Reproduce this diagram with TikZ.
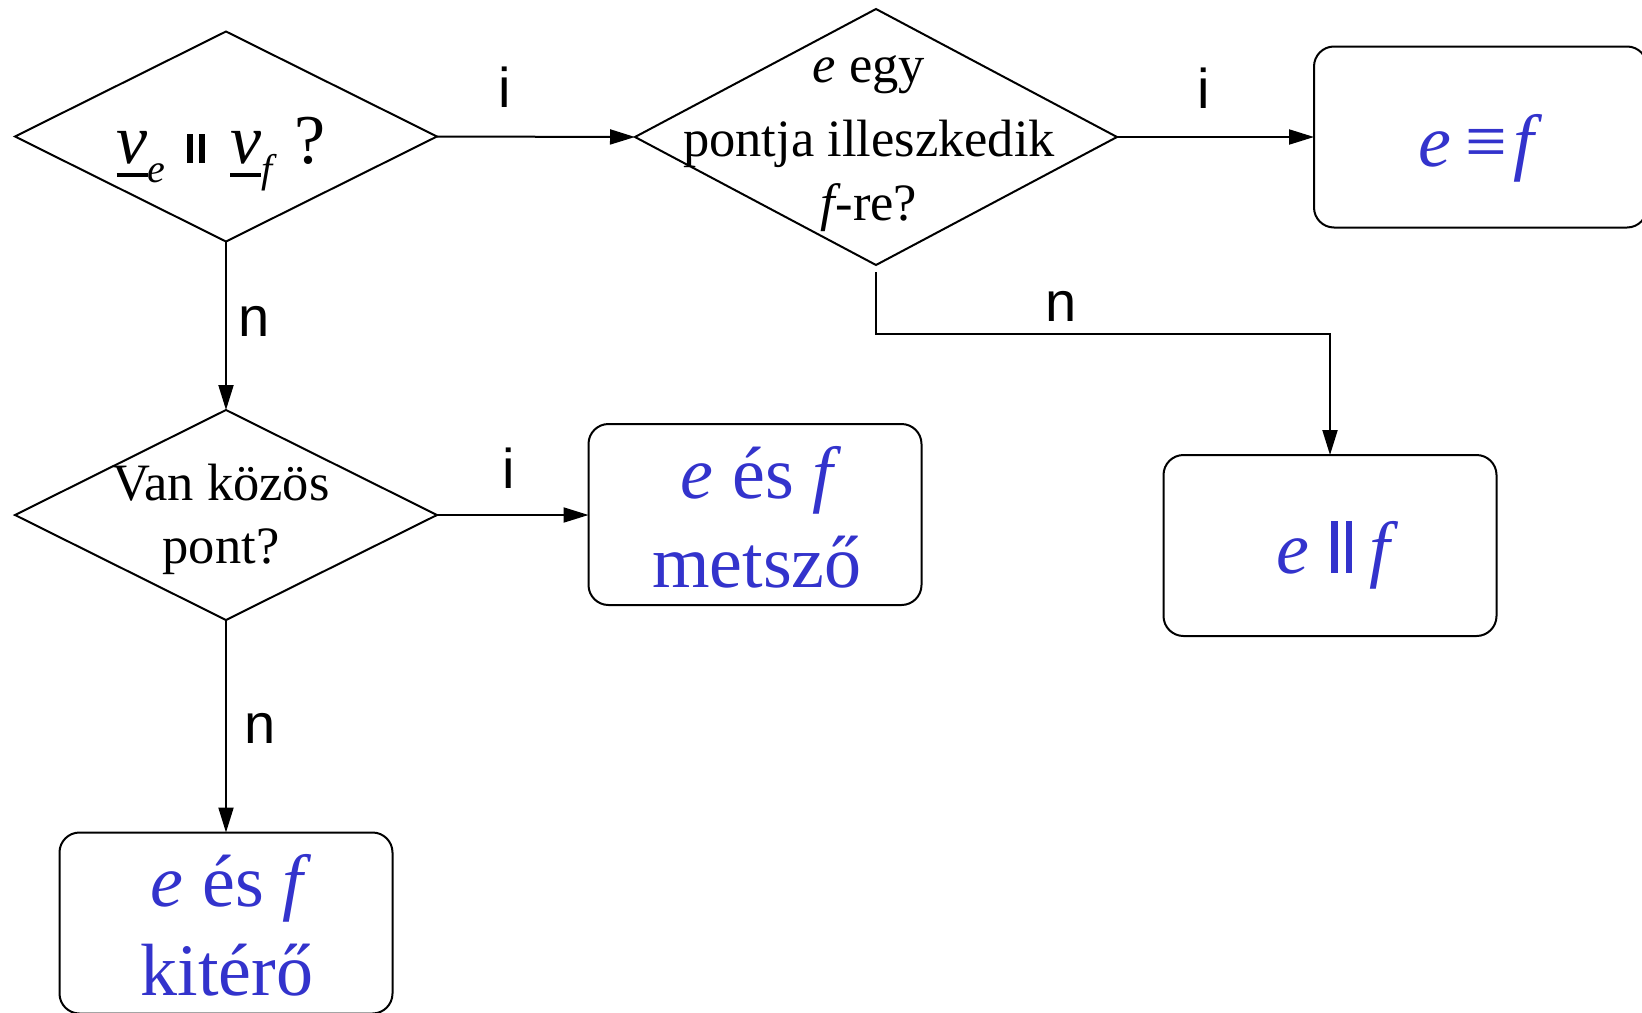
\documentclass[tikz,border=0pt]{standalone}
\usepackage{fontspec}
\setmainfont{Liberation Serif}
\newfontfamily\labelfont{Liberation Sans}
\usetikzlibrary{shapes.geometric,arrows.meta}
\definecolor{resblue}{RGB}{51,51,204}

% underlined italic v (direction vector)
\newcommand\ulv{\vtop{\hbox{\itshape v}\kern4.5pt\hrule height 2pt}}
% lowered subscript letter
\newcommand\subsc[1]{\raisebox{-9.5pt}{\fontsize{20}{20}\selectfont\itshape #1}}
% parallel sign on the baseline: bar width, gap, height
\newcommand\parbars[3]{\rule{#1}{#3}\kern#2\rule{#1}{#3}}

\tikzset{
  decision/.style={draw, diamond, line width=1pt, inner sep=0pt, outer sep=0pt},
  resultbox/.style={draw, rectangle, rounded corners=10pt, line width=1pt,
    minimum width=166.5pt, minimum height=90.5pt, inner sep=0pt, outer sep=0pt},
  restext/.style={text=resblue, font=\fontsize{37}{44.5}\selectfont, align=center,
    inner sep=0pt, anchor=base},
  qtext/.style={font=\fontsize{26.25}{32}\selectfont, align=center, inner sep=0pt, anchor=base},
  branch/.style={font=\labelfont\fontsize{28}{30}\selectfont, inner sep=0pt, anchor=base},
  flow/.style={line width=1pt, -{Triangle[length=12.5pt,width=7.5pt]}}
}

\begin{document}
\begin{tikzpicture}[x=0.5pt,y=-0.5pt]
\useasboundingbox (0,0) rectangle (1642,1012);

% decisions (the base anchor of a multi-line text is its last line)
\node[decision, minimum width=211pt, minimum height=105pt] (d1) at (226,136.5) {};
\node[inner sep=0pt, anchor=base, font=\fontsize{35}{40}\selectfont] (d1t) at (221,163)
  {\ulv\subsc{e}\hspace{11pt}\parbars{3pt}{2.8pt}{14.5pt}\hspace{12.5pt}\ulv\subsc{f}\hspace{11pt}?};

\node[decision, minimum width=241pt, minimum height=128pt] (d2) at (876,137) {};
\node[qtext] (d2t) at (869,220) {{\itshape e} egy\\[5pt] pontja illeszkedik\\ {\itshape f}-re?};

\node[decision, minimum width=211pt, minimum height=105pt] (d3) at (226,515) {};
\node[qtext, font=\fontsize{26.25}{31.5}\selectfont] (d3t) at (221,563) {Van közös\\ pont?};

% results
\node[resultbox] (b1) at (1480.5,137) {};
\node[restext] (b1t) at (1476,166) {{\itshape e}\hspace{7pt}≡\hspace{3pt}{\itshape f}};

\node[resultbox] (b2) at (755,514.5) {};
\node[restext] (b2t) at (757,587) {{\itshape e} és {\itshape f}\\ metsző};

\node[resultbox] (b3) at (1330,545.5) {};
\node[restext] (b3t) at (1333,573) {{\itshape e}\hspace{11pt}\parbars{3.4pt}{4pt}{26pt}\hspace{8.5pt}{\itshape f}};

\node[resultbox] (b4) at (226,923) {};
\node[restext] (b4t) at (227,995) {{\itshape e} és {\itshape f}\\ kitérő};

% connectors
\coordinate (bend) at (876,334);
\draw[flow] (d1.east) -- (d2.west);
\draw[flow] (d2.east) -- (b1.west);
\draw[flow] (d1.south) -- (d3.north);
\draw[flow] (d3.east) -- (d3.east -| b2.west);
\draw[flow] (d3.south) -- (b4.north);
\draw[flow] ([yshift=-3.5pt]d2.south) -- (bend) -| (b3.north);

% branch labels
\node[branch] (li1) at (504.5,107) {i};
\node[branch] (li2) at (1204,108) {i};
\node[branch] (li3) at (509,488) {i};
\node[branch] (ln1) at (254,336.7) {n};
\node[branch] (ln2) at (1061,321.7) {n};
\node[branch] (ln3) at (260,743.5) {n};
\end{tikzpicture}
\end{document}
